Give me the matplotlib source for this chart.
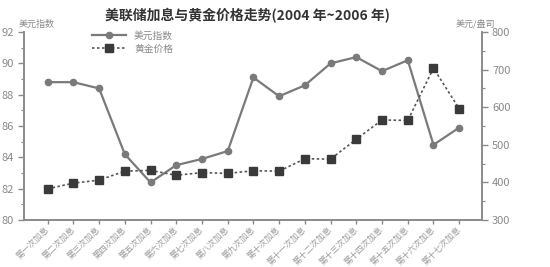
import matplotlib.pyplot as plt
from matplotlib.ticker import MultipleLocator

plt.rcParams['font.family'] = ['Noto Sans CJK SC', 'DejaVu Sans']

# data
labels = ["第一次加息", "第二次加息", "第三次加息", "第四次加息", "第五次加息",
          "第六次加息", "第七次加息", "第八次加息", "第九次加息", "第十次加息",
          "第十一次加息", "第十二次加息", "第十三次加息", "第十四次加息",
          "第十五次加息", "第十六次加息", "第十七次加息"]
usd_index = [88.8, 88.8, 88.4, 84.2, 82.4, 83.5, 83.9, 84.4, 89.1, 87.9,
             88.6, 90.0, 90.4, 89.5, 90.2, 84.8, 85.9]
gold_price = [383, 398, 406, 430, 432, 419, 426, 424, 431, 430,
              463, 462, 515, 566, 565, 704, 596]

grey = '#8a8a8a'
x = list(range(len(labels)))

fig = plt.figure(figsize=(5.5, 2.67), dpi=100)
ax = fig.add_axes([0.0436, 0.176, 0.832, 0.704])
ax2 = ax.twinx()

l1, = ax.plot(x, usd_index, color='#7a7a7a', lw=1.6, marker='o', ms=4.5,
              mfc='#7a7a7a', mec='#7a7a7a', label="美元指数", zorder=3)
l2, = ax2.plot(x, gold_price, color='#555555', lw=1.2, ls=(0, (1.5, 1.5)),
               marker='s', ms=6, mfc='#3a3a3a', mec='#3a3a3a', label="黄金价格")

ax.set_xlim(-0.92, 16.87)
ax.set_ylim(80, 92)
ax2.set_ylim(300, 800)
ax.yaxis.set_major_locator(MultipleLocator(2))
ax.yaxis.set_minor_locator(MultipleLocator(1))
ax2.yaxis.set_major_locator(MultipleLocator(100))
ax2.yaxis.set_minor_locator(MultipleLocator(50))

for a in (ax, ax2):
    a.spines['top'].set_visible(False)
    for s in ('left', 'right', 'bottom'):
        a.spines[s].set_color(grey)
        a.spines[s].set_linewidth(1.2)
    a.tick_params(axis='y', colors=grey, labelsize=8, length=4, width=1)
    a.tick_params(axis='y', which='minor', colors=grey, length=2.5, width=0.8)
ax.tick_params(axis='x', colors=grey, length=3, width=1, pad=2.5)

ax.set_xticks(x)
ax.set_xticklabels(labels, rotation=45, ha='right', va='center',
                   rotation_mode='anchor', fontsize=6, color='#999999')

fig.text(0.033, 0.9, "美元指数", fontsize=6.5, color=grey, ha='left')
fig.text(0.828, 0.9, "美元/盎司", fontsize=6.5, color=grey, ha='left')
fig.text(0.45, 0.925, "美联储加息与黄金价格走势(2004 年~2006 年)", fontsize=10,
         fontweight='bold', color='#333333', ha='center')

leg = ax.legend(handles=[l1, l2], loc='upper left', bbox_to_anchor=(0.13, 1.055),
                frameon=False, fontsize=7, handlelength=3.5, labelspacing=0.35)
for t in leg.get_texts():
    t.set_color(grey)

fig.savefig("out.png", dpi=100)
